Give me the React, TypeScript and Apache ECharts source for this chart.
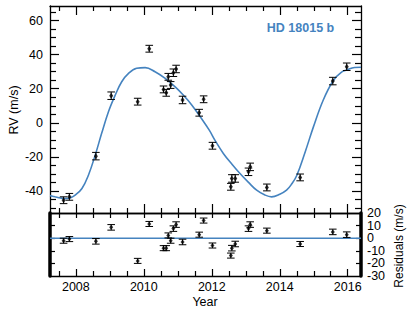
import React, { useEffect, useRef } from "react";
import * as echarts from "echarts";

// Observed radial velocities
const obsYears = [2007.64, 2007.81, 2008.59, 2009.04, 2009.82, 2010.16, 2010.58, 2010.66, 2010.72, 2010.79, 2010.87, 2010.95, 2011.14, 2011.63, 2011.76, 2012.02, 2012.56, 2012.59, 2012.69, 2013.08, 2013.13, 2013.62, 2014.6, 2015.56, 2015.97];
const rvValues = [-45.5, -43.5, -19.6, 15.9, 12.4, 43.5, 19.6, 17.6, 27.0, 22.2, 29.4, 31.6, 13.4, 5.9, 13.8, -13.5, -37.6, -32.7, -32.7, -28.8, -25.9, -38.0, -32.1, 24.5, 32.9];
const rvErrors = [2.0, 2.0, 2.2, 2.2, 2.0, 2.0, 2.0, 2.0, 2.0, 2.0, 2.2, 2.2, 2.2, 2.0, 2.0, 2.0, 2.0, 2.2, 2.2, 2.2, 2.2, 2.0, 2.0, 2.2, 2.2];
const residuals = [-2.0, -0.7, -2.5, 8.6, -18.0, 11.3, -7.9, -7.9, 2.2, -2.0, 7.6, 10.8, -3.0, 2.8, 14.0, -5.8, -13.8, -7.9, -4.6, 7.6, 10.8, 6.0, -4.6, 5.0, 2.8];

// Orbit model curve
const modelYears = [2007.24, 2007.39, 2007.55, 2007.69, 2007.85, 2007.98, 2008.18, 2008.37, 2008.57, 2008.76, 2008.96, 2009.16, 2009.35, 2009.55, 2009.79, 2010.04, 2010.33, 2010.63, 2010.9, 2011.16, 2011.41, 2011.66, 2011.93, 2012.1, 2012.34, 2012.6, 2012.83, 2013.08, 2013.32, 2013.55, 2013.76, 2014.0, 2014.2, 2014.35, 2014.5, 2014.75, 2014.99, 2015.28, 2015.58, 2015.8, 2015.97, 2016.2, 2016.39];
const modelValues = [-42.8, -43.5, -44.2, -44.5, -44.0, -42.5, -38.6, -30.8, -19.0, -6.2, 6.5, 16.3, 24.1, 29.0, 32.0, 32.4, 30.0, 26.1, 21.5, 16.3, 10.5, 3.5, -4.5, -10.5, -18.0, -24.5, -29.8, -35.0, -39.6, -42.3, -43.5, -42.0, -39.6, -36.0, -31.0, -17.0, -2.4, 13.4, 25.0, 29.5, 31.0, 32.5, 32.6];

// Axis ticks
const yearMajor = [2008, 2010, 2012, 2014, 2016];
const yearMinor = [2007.5, 2008.5, 2009, 2009.5, 2010.5, 2011, 2011.5, 2012.5, 2013, 2013.5, 2014.5, 2015, 2015.5];
const yearAll = [2007.5, 2008, 2008.5, 2009, 2009.5, 2010, 2010.5, 2011, 2011.5, 2012, 2012.5, 2013, 2013.5, 2014, 2014.5, 2015, 2015.5, 2016];
const rvMajor = [-40, -20, 0, 20, 40, 60];
const rvMinor = [-50, -45, -35, -30, -25, -15, -10, -5, 5, 10, 15, 25, 30, 35, 45, 50, 55, 65];
const resLabelsA = [-30, -10, 10];
const resLabelsB = [-20, 0, 20];
const resTicks = [-20, -10, 0, 10];

const X_MIN = 2007.24;
const X_MAX = 2016.39;
const BLUE = "#4583bf";
const FONT = "Liberation Sans, Arial, Helvetica, sans-serif";

export default function App() {
  const ref = useRef<HTMLDivElement>(null);
  useEffect(() => {
    if (!ref.current) return;
    const chart = echarts.init(ref.current, null, { renderer: "svg" });

    const line = { show: true, onZero: false, lineStyle: { color: "#000", width: 1.3 } };
    const noLine = { show: false, onZero: false };
    const tick = (vals: number[], len: number) => ({
      show: true,
      inside: true,
      length: len,
      customValues: vals,
      lineStyle: { color: "#000", width: 1.2 },
    });
    const noLabel = { show: false };
    const resLabel = (vals: number[]) => ({
      show: true,
      customValues: vals,
      margin: 6,
      color: "#000",
      fontFamily: FONT,
      fontSize: 12.5,
      hideOverlap: false,
      showMinLabel: true,
      showMaxLabel: true,
    });

    const xBase = (gridIndex: number, position: string) => ({
      type: "value",
      gridIndex,
      position,
      min: X_MIN,
      max: X_MAX,
      splitLine: { show: false },
    });
    const yTop = (position: string) => ({
      type: "value",
      gridIndex: 0,
      position,
      min: -53,
      max: 68.6,
      splitLine: { show: false },
    });
    const yRes = (position: string) => ({
      type: "value",
      gridIndex: 1,
      position,
      min: -30,
      max: 20,
      splitLine: { show: false },
    });

    const errBar = (yIdx: number, xIdx: number, vals: number[]) => ({
      type: "custom",
      xAxisIndex: xIdx,
      yAxisIndex: yIdx,
      data: obsYears.map((x, i) => [x, vals[i], rvErrors[i]]),
      renderItem: (params: any, api: any) => {
        const x = api.value(0);
        const y = api.value(1);
        const e = api.value(2);
        const top = api.coord([x, y + e]);
        const bot = api.coord([x, y - e]);
        const hw = 3.8;
        const st = { stroke: "#000", lineWidth: 1 };
        return {
          type: "group",
          children: [
            { type: "line", shape: { x1: top[0], y1: top[1], x2: bot[0], y2: bot[1] }, style: st },
            { type: "line", shape: { x1: top[0] - hw, y1: top[1], x2: top[0] + hw, y2: top[1] }, style: st },
            { type: "line", shape: { x1: bot[0] - hw, y1: bot[1], x2: bot[0] + hw, y2: bot[1] }, style: st },
          ],
        };
      },
      z: 3,
    });

    const option: any = {
      animation: false,
      grid: [
        { left: 50, top: 6, width: 311, height: 207, containLabel: false },
        { left: 50, top: 213, width: 311, height: 63, containLabel: false },
      ],
      xAxis: [
        { ...xBase(0, "bottom"), axisLine: line, axisTick: tick(yearMajor, 9), axisLabel: noLabel },
        { ...xBase(0, "bottom"), axisLine: noLine, axisTick: tick(yearMinor, 5), axisLabel: noLabel },
        { ...xBase(0, "top"), axisLine: line, axisTick: tick(yearMajor, 9), axisLabel: noLabel },
        { ...xBase(0, "top"), axisLine: noLine, axisTick: tick(yearMinor, 5), axisLabel: noLabel },
        { ...xBase(1, "top"), axisLine: line, axisTick: tick(yearAll, 5), axisLabel: noLabel },
        {
          ...xBase(1, "bottom"),
          axisLine: line,
          axisTick: tick(yearMajor, 7),
          axisLabel: {
            show: true,
            customValues: yearMajor,
            margin: 4,
            color: "#000",
            fontFamily: FONT,
            fontSize: 12.5,
            formatter: (v: number) => String(Math.round(v)),
          },
        },
        { ...xBase(1, "bottom"), axisLine: noLine, axisTick: tick(yearMinor, 5), axisLabel: noLabel },
      ],
      yAxis: [
        {
          ...yTop("left"),
          axisLine: line,
          axisTick: tick(rvMajor, 9),
          axisLabel: {
            show: true,
            customValues: rvMajor,
            margin: 7,
            color: "#000",
            fontFamily: FONT,
            fontSize: 12.5,
          },
        },
        { ...yTop("left"), axisLine: noLine, axisTick: tick(rvMinor, 6), axisLabel: noLabel },
        { ...yTop("right"), axisLine: line, axisTick: tick(rvMajor, 9), axisLabel: noLabel },
        { ...yTop("right"), axisLine: noLine, axisTick: tick(rvMinor, 6), axisLabel: noLabel },
        {
          ...yRes("left"),
          axisLine: { show: true, onZero: false, lineStyle: { color: "#000", width: 3.5 } },
          axisTick: tick(resTicks, 5),
          axisLabel: noLabel,
        },
        {
          ...yRes("right"),
          axisLine: { show: true, onZero: false, lineStyle: { color: "#000", width: 3.5 } },
          axisTick: tick(resTicks, 5),
          axisLabel: resLabel(resLabelsA),
        },
        {
          ...yRes("right"),
          axisLine: noLine,
          axisTick: { show: false },
          axisLabel: resLabel(resLabelsB),
        },
      ],
      series: [
        {
          type: "line",
          xAxisIndex: 0,
          yAxisIndex: 0,
          data: modelYears.map((x, i) => [x, modelValues[i]]),
          smooth: 0.4,
          symbol: "none",
          lineStyle: { color: BLUE, width: 1.6 },
          clip: true,
          z: 2,
        },
        errBar(0, 0, rvValues),
        {
          type: "scatter",
          xAxisIndex: 0,
          yAxisIndex: 0,
          data: obsYears.map((x, i) => [x, rvValues[i]]),
          symbol: "diamond",
          symbolSize: [4, 6],
          itemStyle: { color: "#000" },
          z: 4,
        },
        {
          type: "line",
          xAxisIndex: 5,
          yAxisIndex: 5,
          data: [[X_MIN, 0], [X_MAX, 0]],
          symbol: "none",
          lineStyle: { color: BLUE, width: 1.6 },
          z: 2,
        },
        errBar(5, 5, residuals),
        {
          type: "scatter",
          xAxisIndex: 5,
          yAxisIndex: 5,
          data: obsYears.map((x, i) => [x, residuals[i]]),
          symbol: "diamond",
          symbolSize: [4, 5],
          itemStyle: { color: "#000" },
          z: 4,
        },
      ],
      graphic: [
        {
          type: "text",
          x: 300.5,
          y: 28,
          style: { text: "HD 18015 b", fill: BLUE, font: `bold 12.5px ${FONT}`, align: "center", verticalAlign: "middle" },
        },
        {
          type: "text",
          x: 13.5,
          y: 110,
          rotation: Math.PI / 2,
          style: { text: "RV (m/s)", fill: "#000", font: `12.5px ${FONT}`, align: "center", verticalAlign: "middle" },
        },
        {
          type: "text",
          x: 399,
          y: 246,
          rotation: Math.PI / 2,
          style: { text: "Residuals (m/s)", fill: "#000", font: `12px ${FONT}`, align: "center", verticalAlign: "middle" },
        },
        {
          type: "text",
          x: 205,
          y: 302,
          style: { text: "Year", fill: "#000", font: `12.5px ${FONT}`, align: "center", verticalAlign: "middle" },
        },
      ],
    };

    chart.setOption(option);
    return () => chart.dispose();
  }, []);

  return (
    <div
      ref={ref}
      style={{ position: "fixed", left: 0, top: 0, width: 415, height: 312, background: "#fff" }}
    />
  );
}
